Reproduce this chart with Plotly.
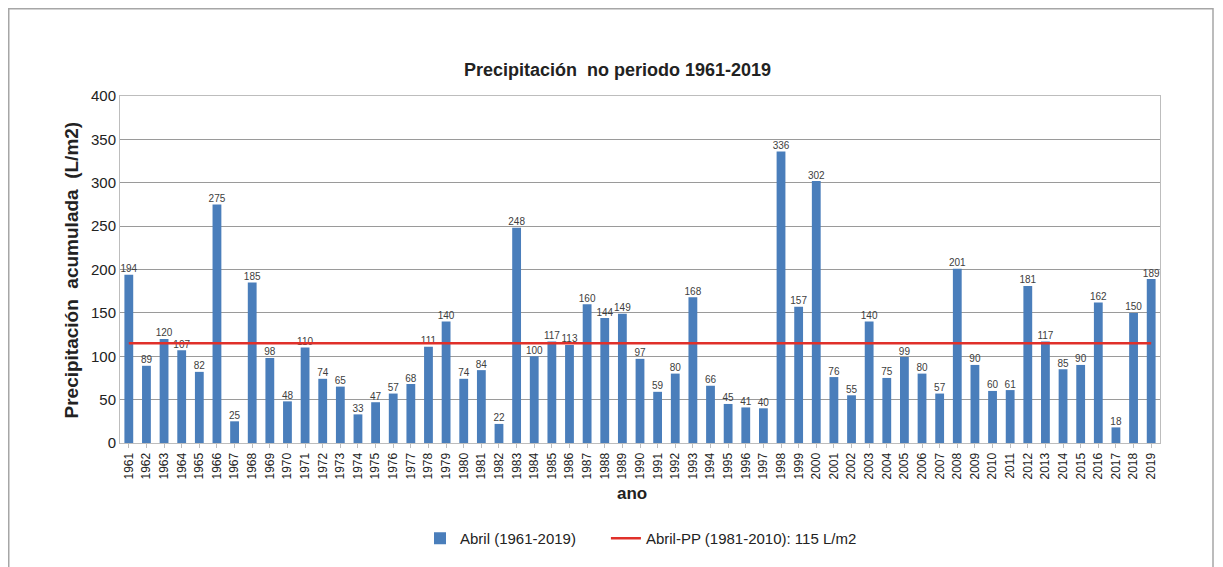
import plotly.graph_objects as go

years = [str(y) for y in range(1961, 2020)]
precip = [194, 89, 120, 107, 82, 275, 25, 185, 98, 48,
          110, 74, 65, 33, 47, 57, 68, 111, 140, 74,
          84, 22, 248, 100, 117, 113, 160, 144, 149, 97,
          59, 80, 168, 66, 45, 41, 40, 336, 157, 302,
          76, 55, 140, 75, 99, 80, 57, 201, 90, 60,
          61, 181, 117, 85, 90, 162, 18, 150, 189]
normal_value = 115
normal = [normal_value] * len(years)

OFF = 8  # page body margin
W, H = 1223 - OFF, 567 - OFF
# plot area in page coordinates
PL, PR, PT, PB = 120, 1160, 96, 443
L, R, T, B = PL - OFF, PR - OFF, PT - OFF, PB - OFF

def px_x(x):
    return (x - PL) / (PR - PL)

def px_y(y):
    return (PB - y) / (PB - PT)

fig = go.Figure()
fig.add_trace(go.Bar(
    x=years, y=precip, name="Abril (1961-2019)\u00a0\u00a0\u00a0\u00a0\u00a0\u00a0",
    marker=dict(color="#4a7ebb", line=dict(width=0)),
))
fig.add_trace(go.Scatter(
    x=years, y=precip, mode="text", text=[str(v) for v in precip],
    textposition="top center", showlegend=False, hoverinfo="skip",
    textfont=dict(size=10, color="#404040", family="Arial"), cliponaxis=False,
))
fig.add_trace(go.Scatter(
    x=years, y=normal, mode="lines",
    name="Abril-PP (1981-2010): 115 L/m2",
    line=dict(color="#e0302a", width=2.5),
))

fig.update_layout(
    width=W, height=H,
    margin=dict(l=L, r=W - R, t=T, b=H - B, autoexpand=False),
    paper_bgcolor="white", plot_bgcolor="white",
    font=dict(family="Arial", color="#222"),
    bargap=0.5,
    showlegend=True,
    legend=dict(orientation="h", x=px_x(420), y=px_y(522), xanchor="left", yanchor="top",
                font=dict(size=15, color="#222"), itemwidth=30, tracegroupgap=0),
    xaxis=dict(type="category", range=[-0.5, len(years) - 0.5], autorange=False,
               tickangle=-90, tickfont=dict(size=12, color="#222"),
               showline=True, linecolor="#bdbdbd", mirror=True, ticks="outside",
               ticklen=4, tickcolor="#bdbdbd", showgrid=False),
    yaxis=dict(range=[0, 400], dtick=50, tickfont=dict(size=15, color="#222"),
               showline=True, linecolor="#bdbdbd", mirror=True, gridcolor="#9a9a9a",
               gridwidth=1, ticks="", zeroline=False),
)

fig.add_annotation(text="<b>Precipitación  no periodo 1961-2019</b>", xref="paper", yref="paper",
                   x=px_x(617), y=px_y(58), showarrow=False, font=dict(size=18, color="#222"))
fig.add_annotation(text="<b>Precipitación  acumulada  (L/m2)</b>", xref="paper", yref="paper",
                   x=px_x(58), y=px_y(270), textangle=-90, showarrow=False,
                   font=dict(size=19, color="#222"))
fig.add_annotation(text="<b>ano</b>", xref="paper", yref="paper",
                   x=px_x(632), y=px_y(505), showarrow=False, font=dict(size=17, color="#222"))
fig.add_shape(type="rect", xref="paper", yref="paper",
              x0=px_x(8.75), x1=px_x(1213), y0=px_y(620), y1=px_y(8.75),
              line=dict(color="#a6a6a6", width=1.5), layer="below")

fig.write_html("out.html")
